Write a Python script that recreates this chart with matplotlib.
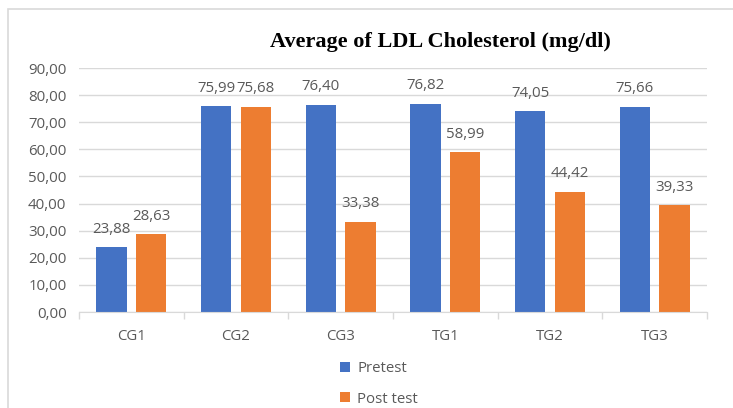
import matplotlib.pyplot as plt
from matplotlib.patches import Rectangle
import numpy as np

# Datos del gráfico
grupos = ["CG1", "CG2", "CG3", "TG1", "TG2", "TG3"]
pretest = [23.88, 75.99, 76.40, 76.82, 74.05, 75.66]
post_test = [28.63, 75.68, 33.38, 58.99, 44.42, 39.33]

azul = "#4472C4"
naranja = "#ED7D31"
gris = "#595959"
linea = "#D9D9D9"
fs = 10.8

plt.rcParams["font.family"] = ["Open Sans", "DejaVu Sans"]

fig = plt.figure(figsize=(7.33, 4.08), dpi=100)
W, H = 733, 408
ax = fig.add_axes([79 / W, 1 - 312 / H, (707 - 79) / W, (312 - 68) / H])

x = np.arange(len(grupos))
ancho = 0.29
sep = 0.19
b1 = ax.bar(x - sep, pretest, ancho, color=azul, label="Pretest", zorder=3)
b2 = ax.bar(x + sep, post_test, ancho, color=naranja, label="Post test", zorder=3)

# Etiquetas con el valor encima de cada barra
for barras in (b1, b2):
    for b in barras:
        v = b.get_height()
        ax.annotate(f"{v:.2f}".replace(".", ","),
                    (b.get_x() + b.get_width() / 2, v),
                    xytext=(0, 7.5), textcoords="offset points",
                    ha="center", va="bottom", fontsize=fs, color=gris)

ax.set_xlim(-0.5, len(grupos) - 0.5)
ax.set_ylim(0, 90)
ax.set_yticks(np.arange(0, 91, 10))
ax.set_yticklabels([f"{v:.2f}".replace(".", ",") for v in np.arange(0, 91, 10)])
ax.set_xticks(x)
ax.set_xticklabels(grupos)
ax.set_xticks(np.arange(-0.5, len(grupos), 1), minor=True)
ax.tick_params(axis="x", which="major", length=0, pad=12, labelsize=fs, labelcolor=gris)
ax.tick_params(axis="x", which="minor", length=5, color=linea, width=1)
ax.tick_params(axis="y", length=0, pad=9, labelsize=fs, labelcolor=gris)
ax.yaxis.grid(True, color=linea, linewidth=1, zorder=0)
for lado in ("left", "right", "top"):
    ax.spines[lado].set_visible(False)
ax.spines["bottom"].set_color(linea)
ax.spines["bottom"].set_zorder(4)

fig.text(440 / W, 1 - 42 / H, "Average of LDL Cholesterol (mg/dl)",
         ha="center", va="center", fontsize=16, fontweight="bold",
         family="Liberation Serif", color="black")

fig.legend(loc="upper left", bbox_to_anchor=(340 / W, 1 - 361 / H),
           frameon=False, ncol=1, handlelength=0.65, handleheight=0.65,
           handletextpad=0.5, labelspacing=1.05, fontsize=fs, labelcolor=gris,
           borderaxespad=0, borderpad=0)

# Marco exterior del gráfico
fig.patches.append(Rectangle((8 / W, -0.1), 1.2, 1 - 9 / H + 0.1,
                             transform=fig.transFigure, fill=False,
                             edgecolor=linea, linewidth=1.2))

plt.savefig("out.png", dpi=100)
